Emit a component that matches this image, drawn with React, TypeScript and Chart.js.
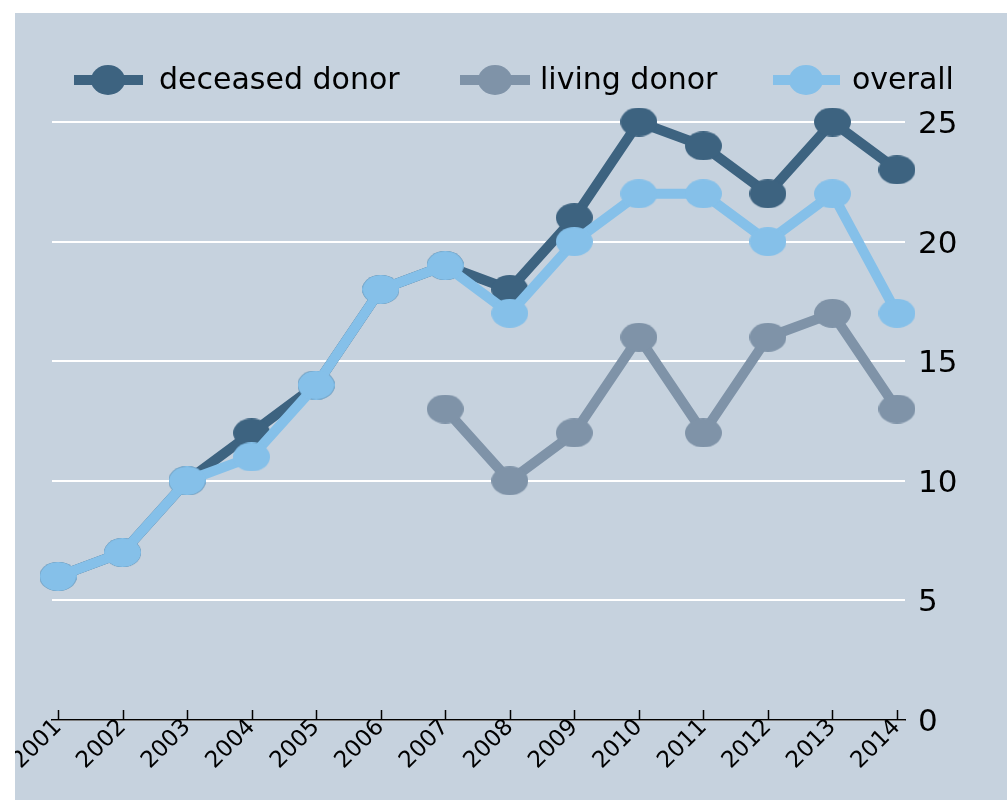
import React, { useEffect, useRef } from "react";
import { Chart, registerables } from "chart.js";

Chart.register(...registerables);

const years = [2001, 2002, 2003, 2004, 2005, 2006, 2007, 2008, 2009, 2010, 2011, 2012, 2013, 2014];
const deceasedDonor = [6, 7, 10, 12, 14, 18, 19, 18, 21, 25, 24, 22, 25, 23];
const livingDonor: (number | null)[] = [null, null, null, null, null, null, 13, 10, 12, 16, 12, 16, 17, 13];
const overall = [6, 7, 10, 11, 14, 18, 19, 17, 20, 22, 22, 20, 22, 17];
const yTicks = [0, 5, 10, 15, 20, 25];
const seriesNames = ["deceased donor", "living donor", "overall"];
const seriesColors = ["#3d6380", "#7f93a8", "#85c0e9"];

const FONT = "'DejaVu Sans', Verdana, sans-serif";

function makeEllipse(color: string, rx: number, ry: number): HTMLCanvasElement {
  const c = document.createElement("canvas");
  c.width = Math.ceil(rx * 2);
  c.height = Math.ceil(ry * 2);
  const g = c.getContext("2d")!;
  g.fillStyle = color;
  g.beginPath();
  g.ellipse(c.width / 2, c.height / 2, rx, ry, 0, 0, Math.PI * 2);
  g.fill();
  return c;
}

const legendPlugin = {
  id: "customLegend",
  afterDraw(chart: any) {
    const ctx = chart.ctx as CanvasRenderingContext2D;
    const y = 67;
    const lineX1 = [59, 445, 758];
    const lineX2 = [128, 515, 825];
    const circX = [93, 480, 791];
    const textX = [144, 525, 837];
    ctx.save();
    seriesNames.forEach((name, i) => {
      ctx.strokeStyle = seriesColors[i];
      ctx.lineWidth = 10;
      ctx.beginPath();
      ctx.moveTo(lineX1[i], y);
      ctx.lineTo(lineX2[i], y);
      ctx.stroke();
      ctx.fillStyle = seriesColors[i];
      ctx.beginPath();
      ctx.ellipse(circX[i], y, 17, 15, 0, 0, Math.PI * 2);
      ctx.fill();
      ctx.fillStyle = "#000";
      ctx.font = `30px ${FONT}`;
      ctx.textBaseline = "middle";
      ctx.textAlign = "left";
      ctx.fillText(name, textX[i], y + 1);
    });
    ctx.restore();
  },
};

const tickMarkPlugin = {
  id: "tickMarks",
  afterDraw(chart: any) {
    const ctx = chart.ctx as CanvasRenderingContext2D;
    const xs = chart.scales.x;
    const bottom = chart.chartArea.bottom;
    ctx.save();
    ctx.strokeStyle = "#000";
    ctx.lineWidth = 1.5;
    years.forEach((yr) => {
      const px = Math.round(xs.getPixelForValue(yr)) + 0.5;
      ctx.beginPath();
      ctx.moveTo(px, bottom - 10);
      ctx.lineTo(px, bottom);
      ctx.stroke();
    });
    ctx.restore();
  },
};

export default function App() {
  const canvasRef = useRef<HTMLCanvasElement | null>(null);

  useEffect(() => {
    if (!canvasRef.current) return;
    const mk = (arr: (number | null)[]) => years.map((yr, i) => ({ x: yr, y: arr[i] }));
    const dsBase = (i: number, arr: (number | null)[], order: number) => ({
      label: seriesNames[i],
      data: mk(arr),
      borderColor: seriesColors[i],
      backgroundColor: seriesColors[i],
      borderWidth: 10,
      borderCapStyle: "round" as const,
      borderJoinStyle: "round" as const,
      pointStyle: makeEllipse(seriesColors[i], 18.5, 14.5),
      pointRadius: 16,
      pointHoverRadius: 16,
      tension: 0,
      clip: false as any,
      spanGaps: false,
      order,
    });
    const chart = new Chart(canvasRef.current, {
      type: "line",
      data: {
        datasets: [
          dsBase(0, deceasedDonor, 3),
          dsBase(1, livingDonor, 2),
          dsBase(2, overall, 1),
        ] as any,
      },
      plugins: [legendPlugin, tickMarkPlugin],
      options: {
        animation: false,
        responsive: false,
        maintainAspectRatio: false,
        events: [],
        layout: { padding: { left: 37, top: 109, right: 0, bottom: 0 } },
        plugins: {
          legend: { display: false },
          tooltip: { enabled: false },
          title: { display: false },
        },
        scales: {
          x: {
            type: "linear",
            min: 2000.907,
            max: 2014.124,
            afterBuildTicks: (scale: any) => {
              scale.ticks = years.map((v) => ({ value: v }));
            },
            afterFit: (scale: any) => {
              scale.height = 80;
            },
            grid: { display: false },
            border: { display: true, color: "#000", width: 1.5 },
            ticks: {
              autoSkip: false,
              maxRotation: 45,
              minRotation: 45,
              padding: -14,
              color: "#000",
              font: { family: FONT, size: 23 },
              callback: (v: any) => String(v),
            },
          },
          y: {
            type: "linear",
            position: "right",
            min: 0,
            max: 25,
            afterBuildTicks: (scale: any) => {
              scale.ticks = yTicks.map((v) => ({ value: v }));
            },
            afterFit: (scale: any) => {
              scale.width = 102;
            },
            grid: { color: "#ffffff", lineWidth: 2, drawTicks: false },
            border: { display: false },
            ticks: {
              padding: 13,
              labelOffset: 3,
              color: "#000",
              font: { family: FONT, size: 31 },
              callback: (v: any) => String(v),
            },
          },
        },
      },
    });
    return () => chart.destroy();
  }, []);

  return (
    <div style={{ position: "absolute", left: 0, top: 0, width: 1007, height: 800, background: "#ffffff", overflow: "hidden" }}>
      <div style={{ position: "absolute", left: 15, top: 13, width: 992, height: 787, background: "#c6d2de" }}>
        <canvas ref={canvasRef} width={992} height={787} style={{ display: "block", width: 992, height: 787 }} />
      </div>
    </div>
  );
}
